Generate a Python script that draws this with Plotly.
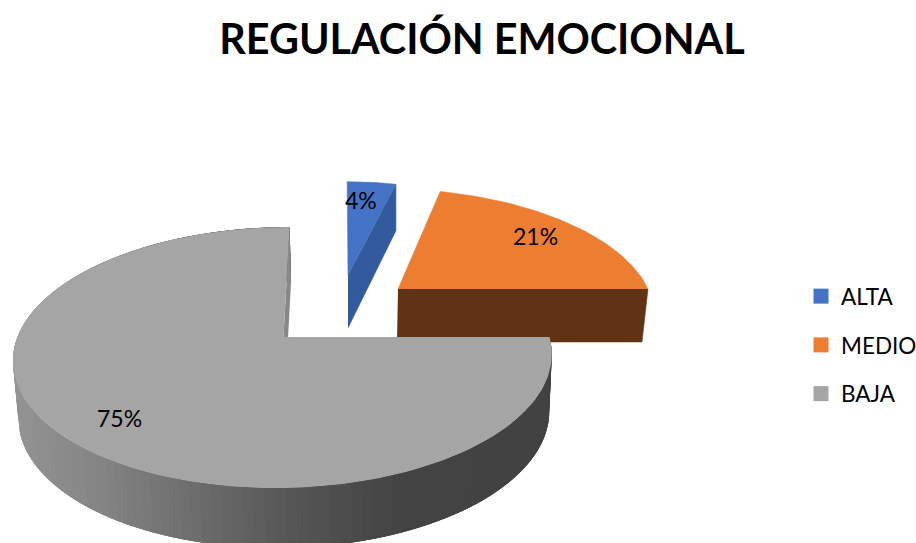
import numpy as np
import plotly.graph_objects as go

# ---- data ----
categories = ["ALTA", "MEDIO", "BAJA"]
values = [4, 21, 75]
title_text = "REGULACIÓN EMOCIONAL"

# ---- style / geometry ----
W, H = 916, 543
FONT = "Lato"
top_colors = ["#4472C4", "#ED7D31", "#A5A5A5"]
cut_colors = ["#335A9C", "#603314", "#888888"]
# per-slice projection of the exploded pie: apex, radii, shear, wall offset and scale
geom = [
    dict(ax=348, ay=275, rx=226, ry=108, s=1, bx=348, by=328, bscale=1.0, byscale=1.07),
    dict(ax=398, ay=289, rx=250, ry=116, s=14, bx=397, by=342, bscale=0.98, byscale=1.0),
    dict(ax=283.5, ay=337, rx=266, ry=127.3, s=-7, bx=285, by=394, bscale=0.985, byscale=1.02),
]
K = 0.157
label_pos = [(361, 200), (535, 236), (119, 418)]
wall_stops_x = [15, 100, 200, 300, 400, 540]
wall_stops_v = [0x94, 0x85, 0x6C, 0x55, 0x44, 0x42]


def project(t, ax, ay, rx, ry, s):
    u, v = np.sin(t), -np.cos(t)
    w = 1 - K * v
    return ax + (rx * u + s * v) / w, ay + ry * v / w


def top_xy(t, g):
    return project(t, g["ax"], g["ay"], g["rx"], g["ry"], g["s"])


def bot_xy(t, g):
    return project(t, g["bx"], g["by"], g["rx"] * g["bscale"], g["ry"] * g["byscale"], g["s"])


def poly(fig, xs, ys, color, width=0.5):
    fig.add_trace(go.Scatter(x=list(xs), y=list(ys), mode="lines", fill="toself",
                             fillcolor=color, line=dict(color=color, width=width),
                             hoverinfo="skip", showlegend=False))


edges = np.cumsum([0] + values) / sum(values) * 2 * np.pi
fig = go.Figure()

# blue: cut wall on the end edge, then top
g = geom[0]
t0, t1 = edges[0], edges[1]
tx, ty = top_xy(t1, g)
bx, by = bot_xy(t1, g)
poly(fig, [g["ax"], tx, bx, g["bx"]], [g["ay"], ty, by, g["by"]], cut_colors[0])
arc = np.linspace(t0, t1, 20)
ax_, ay_ = top_xy(arc, g)
poly(fig, np.r_[g["ax"], ax_], np.r_[g["ay"], ay_], top_colors[0])

# orange: cut wall on the end edge, then top
g = geom[1]
t0, t1 = edges[1], edges[2]
tx, ty = top_xy(t1, g)
bx, by = bot_xy(t1, g)
poly(fig, [g["ax"], tx, bx, g["bx"]], [g["ay"], ty, by, g["by"]], cut_colors[1])
arc = np.linspace(t0, t1, 60)
ax_, ay_ = top_xy(arc, g)
poly(fig, np.r_[g["ax"], ax_], np.r_[g["ay"], ay_], top_colors[1])

# gray: outer wall with a horizontal gradient (overlapping bands), back cut wall, then top
g = geom[2]
t0, t1 = edges[2], edges[3]
segs = np.linspace(t0, t1, 136)
for i in range(len(segs) - 1):
    tt = np.linspace(segs[i], segs[min(i + 3, len(segs) - 1)], 4)
    xt, yt = top_xy(tt, g)
    xb, yb = bot_xy(tt[::-1], g)
    shade = int(np.interp((xt[:2].mean() + xb[-2:].mean()) / 2, wall_stops_x, wall_stops_v))
    poly(fig, np.r_[xt, xb], np.r_[yt, yb], f"rgb({shade},{shade},{shade})", width=0)
tx, ty = top_xy(t1, g)
bx, by = bot_xy(t1, g)
poly(fig, [g["ax"], tx, bx, g["bx"]], [g["ay"], ty, by, g["by"]], cut_colors[2], width=0)
arc = np.linspace(t0, t1, 200)
ax_, ay_ = top_xy(arc, g)
poly(fig, np.r_[g["ax"], ax_], np.r_[g["ay"], ay_], top_colors[2], width=0)

# legend entries
for name, col in zip(categories, top_colors):
    fig.add_trace(go.Scatter(x=[None], y=[None], mode="markers", name=name, legendgroup=name,
                             marker=dict(symbol="square", size=15, color=col)))

for val, (lx, ly) in zip(values, label_pos):
    fig.add_annotation(x=lx, y=ly, text=f"{val}%", showarrow=False,
                       font=dict(family=FONT, size=23, color="#000000"),
                       xanchor="center", yanchor="middle")

fig.update_layout(
    width=W, height=H, autosize=False,
    margin=dict(l=0, r=0, t=0, b=0, autoexpand=False),
    paper_bgcolor="white", plot_bgcolor="white",
    title=dict(text=f"<b>{title_text}</b>", x=482 / W, xanchor="center", xref="paper",
               y=1 - 40 / H, yanchor="middle", yref="paper",
               font=dict(family=FONT, size=41.3, color="#000000")),
    xaxis=dict(range=[0, W], visible=False, fixedrange=True),
    yaxis=dict(range=[H, 0], visible=False, fixedrange=True),
    showlegend=True,
    legend=dict(x=801 / W, y=1 - 275 / H, xanchor="left", yanchor="top",
                tracegroupgap=16.5, bgcolor="rgba(0,0,0,0)",
                font=dict(family=FONT, size=22.5, color="#000000")),
)
fig.write_html("out.html", config={"displayModeBar": False}, post_script=(
    "document.body.style.margin='0';document.documentElement.style.overflow='hidden';"))
